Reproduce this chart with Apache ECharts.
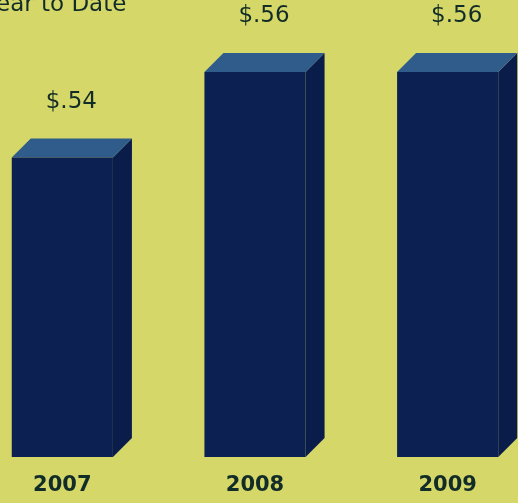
<!DOCTYPE html>
<html>
<head>
<meta charset="utf-8">
<style>
html,body{margin:0;padding:0;background:#d5d769;}
#chart{width:518px;height:503px;}
</style>
<script src="https://cdn.jsdelivr.net/npm/echarts@6/dist/echarts.min.js"></script>
</head>
<body>
<div id="chart"></div>
<script>
const categories = ['2007', '2008', '2009'];
const values = [0.54, 0.56, 0.56];
const valueLabels = ['$.54', '$.56', '$.56'];
const title = 'Year to Date';

const AXIS_MIN = 0.47, AXIS_MAX = 0.56;
const DX = 19, DY = -19;
const FRONT = '#0c2052', TOP = '#2f5c8b', SIDE = '#0a1c4a', INK = '#122c27';
const FONT = '"DejaVu Sans"';

const chart = echarts.init(document.getElementById('chart'));
chart.setOption({
  backgroundColor: '#d5d769',
  animation: false,
  grid: { left: -34, right: -26, top: 72, bottom: 46, outerBoundsMode: 'none', containLabel: false },
  xAxis: {
    type: 'category', data: categories,
    axisLine: { show: false }, axisTick: { show: false },
    axisLabel: { color: INK, fontFamily: 'DejaVu Sans', fontWeight: 'bold', fontSize: 21, margin: 18 }
  },
  yAxis: {
    type: 'value', min: AXIS_MIN, max: AXIS_MAX,
    show: false, splitLine: { show: false }
  },
  graphic: [{
    type: 'text', x: -15, y: 5,
    style: { text: title, fill: INK, font: '23px ' + FONT, verticalAlign: 'middle' }
  }],
  series: [{
    type: 'custom',
    data: values.map((v, i) => [i, v]),
    renderItem: function (params, api) {
      const i = api.value(0), v = api.value(1);
      const top = api.coord([i, v]);
      const bot = api.coord([i, AXIS_MIN]);
      const band = api.size([1, 0])[0];
      const w = band * 0.525;
      const x0 = top[0] - w / 2, x1 = top[0] + w / 2;
      const yT = top[1], yB = bot[1];
      return {
        type: 'group',
        children: [
          { type: 'polygon', shape: { points: [[x1, yT], [x1 + DX, yT + DY], [x1 + DX, yB + DY], [x1, yB]] },
            style: { fill: SIDE } },
          { type: 'polygon', shape: { points: [[x0, yT], [x0 + DX, yT + DY], [x1 + DX, yT + DY], [x1, yT]] },
            style: { fill: TOP } },
          { type: 'rect', shape: { x: x0, y: yT, width: w, height: yB - yT },
            style: { fill: FRONT } },
          { type: 'text', x: top[0] + 9, y: yT + DY - 37,
            style: { text: valueLabels[params.dataIndex], fill: INK, font: '23px ' + FONT,
                     align: 'center', verticalAlign: 'middle' } }
        ]
      };
    }
  }]
});
</script>
</body>
</html>
